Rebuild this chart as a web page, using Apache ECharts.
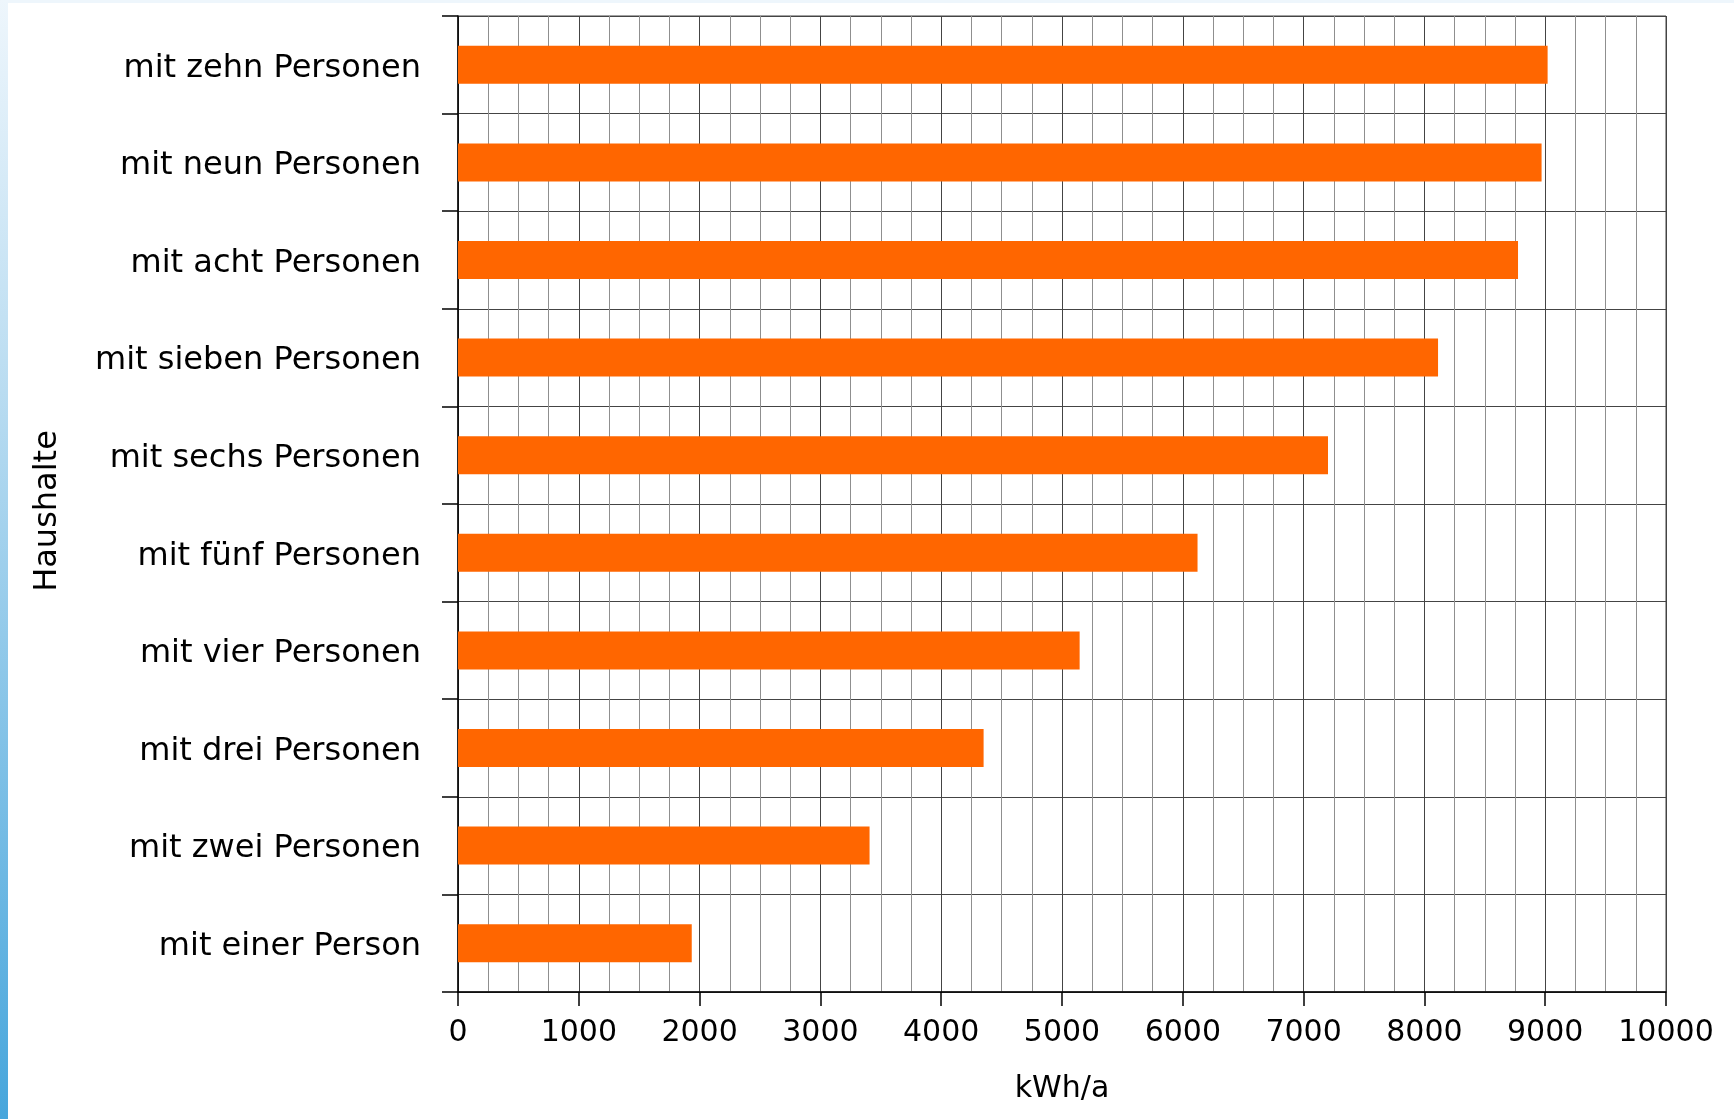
<!DOCTYPE html>
<html>
<head>
<meta charset="utf-8">
<script src="https://cdn.jsdelivr.net/npm/echarts@6/dist/echarts.min.js"></script>
<style>
  html, body { margin: 0; padding: 0; background: #ffffff; }
  #chart { width: 1734px; height: 1119px; }
</style>
</head>
<body>
<div id="chart"></div>
<script>
// Categories (top to bottom)
const categories = [
  'mit zehn Personen',
  'mit neun Personen',
  'mit acht Personen',
  'mit sieben Personen',
  'mit sechs Personen',
  'mit fünf Personen',
  'mit vier Personen',
  'mit drei Personen',
  'mit zwei Personen',
  'mit einer Person'
];
// Annual electricity consumption, kWh/a
const consumption = [9020, 8970, 8775, 8113, 7202, 6122, 5146, 4351, 3407, 1935];
const xAxisName = 'kWh/a';
const yAxisName = 'Haushalte';

const FONT = "'DejaVu Sans', 'Noto Sans', sans-serif";

const chart = echarts.init(document.getElementById('chart'), null, { renderer: 'canvas' });

chart.setOption({
  backgroundColor: '#ffffff',
  animation: false,
  graphic: [
    {
      type: 'rect', z: -10, silent: true,
      shape: { x: 0, y: 0, width: 1734, height: 3 },
      style: { fill: '#eef6fc' }
    },
    {
      type: 'rect', z: -10, silent: true,
      shape: { x: 0, y: 0, width: 8, height: 1119 },
      style: {
        fill: new echarts.graphic.LinearGradient(0, 0, 0, 1, [
          { offset: 0, color: '#eef6fc' },
          { offset: 0.35, color: '#b9dcf1' },
          { offset: 1, color: '#47a6dc' }
        ])
      }
    }
  ],
  grid: {
    left: 458,
    right: 68,
    top: 16,
    height: 976,
    show: true,
    borderColor: '#444444',
    borderWidth: 1,
    containLabel: false
  },
  xAxis: {
    type: 'value',
    min: 0,
    max: 10000,
    interval: 1000,
    name: xAxisName,
    nameLocation: 'middle',
    nameGap: 82,
    nameTextStyle: { fontFamily: FONT, fontSize: 30, color: '#000000' },
    axisLine: { show: true, lineStyle: { color: '#000000', width: 1.5 } },
    axisTick: { show: true, length: 14, lineStyle: { color: '#000000', width: 1.5 } },
    axisLabel: {
      margin: 26, fontFamily: FONT, fontSize: 30, color: '#000000',
      formatter: function (v) { return String(v); }
    },
    splitLine: { show: true, lineStyle: { color: '#444444', width: 1 } },
    minorTick: { show: false, splitNumber: 4 },
    minorSplitLine: { show: true, lineStyle: { color: '#8f8f8f', width: 1 } }
  },
  yAxis: {
    type: 'category',
    data: categories,
    inverse: true,
    name: yAxisName,
    nameLocation: 'middle',
    nameRotate: 90,
    nameGap: 394,
    nameTextStyle: { fontFamily: FONT, fontSize: 32, color: '#000000', padding: [0, 14, 0, 0] },
    axisLine: { show: true, lineStyle: { color: '#000000', width: 1.5 } },
    axisTick: { show: true, length: 16, interval: 0, lineStyle: { color: '#000000', width: 1.5 } },
    axisLabel: {
      margin: 37, interval: 0,
      formatter: function (v) { return '{c|' + v + '}'; },
      rich: {
        c: { fontFamily: FONT, fontSize: 32, color: '#000000', padding: [7, 0, 0, 0] }
      }
    },
    splitLine: { show: true, interval: 0, lineStyle: { color: '#444444', width: 1 } }
  },
  series: [
    {
      type: 'bar',
      data: consumption,
      barWidth: 38,
      itemStyle: { color: '#ff6600' },
      z: 3
    }
  ]
});
</script>
</body>
</html>
